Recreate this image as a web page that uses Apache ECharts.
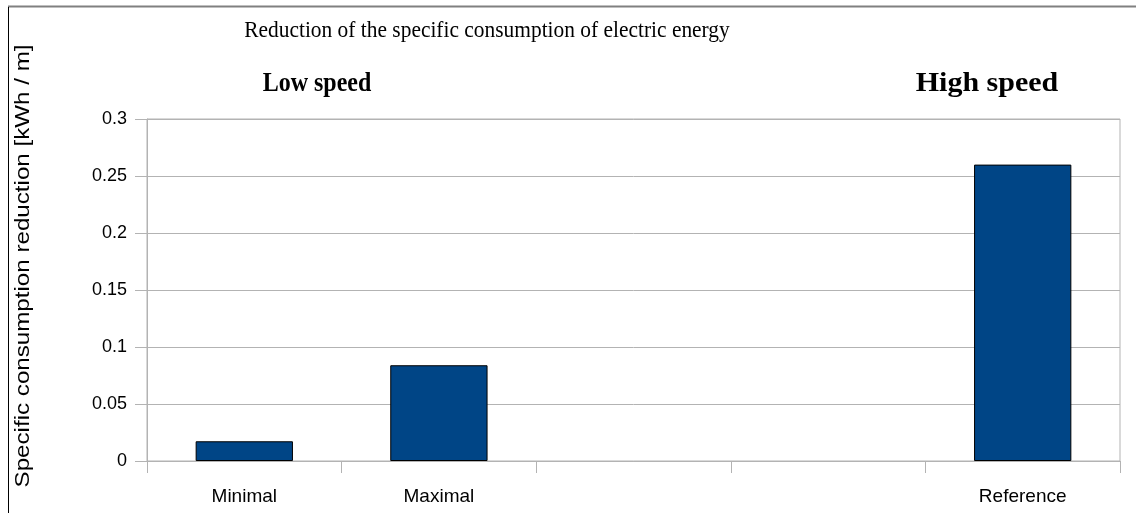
<!DOCTYPE html>
<html>
<head>
<meta charset="utf-8">
<script src="https://cdn.jsdelivr.net/npm/echarts@6/dist/echarts.min.js"></script>
<style>
  html, body { margin: 0; padding: 0; background: #ffffff; }
  #chart { width: 1136px; height: 513px; }
</style>
</head>
<body>
<div id="chart"></div>
<script>
// Categories along the x axis (two unlabeled slots separate the speed groups)
const categories = ['Minimal', 'Maximal', '', '', 'Reference'];
// Specific consumption reduction, kWh per metre
const reduction = [0.0173, 0.084, null, null, 0.26];
// Value axis range and step
const yMin = 0;
const yMax = 0.3;
const yStep = 0.05;

const chart = echarts.init(document.getElementById('chart'), null, { renderer: 'canvas' });

const gridColor = '#b3b3b3';
const sans = '"Liberation Sans", Arial, sans-serif';
const serif = '"Liberation Serif", "Times New Roman", serif';

chart.setOption({
  backgroundColor: '#ffffff',
  animation: false,
  grid: {
    left: 147, right: 16, top: 119, bottom: 52,
    show: true, borderColor: gridColor, borderWidth: 1, backgroundColor: 'transparent'
  },
  xAxis: {
    type: 'category',
    data: categories,
    boundaryGap: true,
    axisLine: { lineStyle: { color: gridColor, width: 1 } },
    axisTick: { show: true, length: 12, lineStyle: { color: gridColor } },
    axisLabel: { color: '#000000', fontFamily: sans, fontSize: 19, margin: 26 },
    splitLine: { show: false }
  },
  yAxis: {
    type: 'value',
    min: yMin, max: yMax, interval: yStep,
    axisLine: { show: true, lineStyle: { color: gridColor, width: 1 } },
    axisTick: { show: true, length: 12, lineStyle: { color: gridColor } },
    axisLabel: { color: '#000000', fontFamily: sans, fontSize: 18, margin: 20 },
    splitLine: { show: true, lineStyle: { color: gridColor, width: 1 } }
  },
  series: [{
    type: 'bar',
    data: reduction,
    barWidth: '50%',
    itemStyle: { color: '#004586', borderColor: '#000000', borderWidth: 1 }
  }],
  graphic: [
    // outer frame: grey top edge, black left edge
    { type: 'line', shape: { x1: 8, y1: 6.5, x2: 1136, y2: 6.5 }, style: { stroke: '#808080', lineWidth: 2 } },
    { type: 'line', shape: { x1: 8.5, y1: 7, x2: 8.5, y2: 513 }, style: { stroke: '#000000', lineWidth: 1 } },
    {
      type: 'text', x: 487, y: 31, scaleX: 1.02, scaleY: 1.12,
      style: { text: 'Reduction of the specific consumption of electric energy', font: '21px ' + serif, fill: '#000000', textAlign: 'center', textVerticalAlign: 'middle' }
    },
    {
      type: 'text', x: 317, y: 84, scaleX: 1.0, scaleY: 1.1,
      style: { text: 'Low speed', font: 'bold 24px ' + serif, fill: '#000000', textAlign: 'center', textVerticalAlign: 'middle' }
    },
    {
      type: 'text', x: 987, y: 84, scaleX: 1.25, scaleY: 1.1,
      style: { text: 'High speed', font: 'bold 24px ' + serif, fill: '#000000', textAlign: 'center', textVerticalAlign: 'middle' }
    },
    {
      type: 'text', x: 23, y: 266, rotation: Math.PI / 2, scaleX: 1.15, scaleY: 1.0,
      style: { text: 'Specific consumption reduction [kWh / m]', font: '21px ' + sans, fill: '#000000', textAlign: 'center', textVerticalAlign: 'middle' }
    }
  ]
});
</script>
</body>
</html>
